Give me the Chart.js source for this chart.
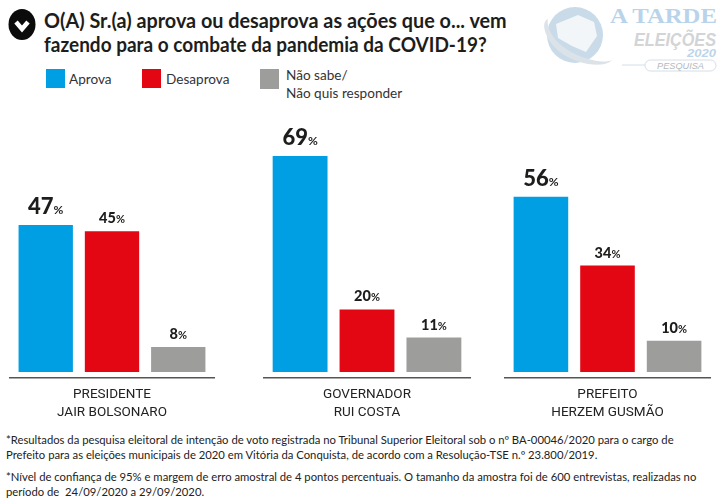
<!DOCTYPE html>
<html lang="pt">
<head>
<meta charset="utf-8">
<title>Avaliação COVID-19</title>
<script src="https://cdn.jsdelivr.net/npm/chart.js@4"></script>
<style>
html, body { margin: 0; padding: 0; background: #fff; }
#page { position: relative; width: 723px; height: 501px; overflow: hidden; font-family: Lato, sans-serif; color: #222; }
#page div { position: absolute; white-space: nowrap; }
#page canvas { display: block; }
.title { left: 44px; font-weight: 700; font-size: 20px; line-height: 24px; color: #1d1d1b; transform-origin: left center; }
.swatch { width: 19px; height: 19px; top: 69px; }
.leg { font-size: 14px; line-height: 18px; color: #333; transform-origin: left center; transform: scaleX(0.97); }
.note { left: 6px; font-size: 11.5px; line-height: 15px; color: #222; transform-origin: left center; transform: scaleX(0.98); }
.box { top: 110px; height: 314px; }
svg { position: absolute; }
</style>
</head>
<body>
<div id="page">
  <svg style="left:8px;top:8px" width="28" height="33" viewBox="0 0 28 33">
    <ellipse cx="14" cy="16.5" rx="13.5" ry="15.5" fill="#0b0b0b"/>
    <path d="M8 14 L14 21 L20 14" fill="none" stroke="#fff" stroke-width="4.5"/>
  </svg>
  <div class="title" style="top:8px;transform:scaleX(0.99)">O(A) Sr.(a) aprova ou desaprova as ações que o... vem</div>
  <div class="title" style="top:32px;transform:scaleX(0.95)">fazendo para o combate da pandemia da COVID-19?</div>

  <div class="swatch" style="left:46px;background:#009fe3"></div>
  <div class="leg" style="left:69px;top:70px">Aprova</div>
  <div class="swatch" style="left:142px;background:#e30613"></div>
  <div class="leg" style="left:166px;top:70px">Desaprova</div>
  <div class="swatch" style="left:260px;top:69px;background:#9d9d9c;height:20px"></div>
  <div class="leg" style="left:286px;top:66px">Não sabe/</div>
  <div class="leg" style="left:286px;top:84px">Não quis responder</div>

  <svg style="left:535px;top:0" width="188" height="80" viewBox="535 0 188 80">
    <circle cx="575" cy="35" r="28" fill="#c9dbe9"/>
    <path d="M556 24 L578 15 L594 22 L597 36 L586 52 L572 46 L558 38 Z" fill="#f3f6f8"/>
    <path d="M548 19 C 540 22 545 40 560 52 C 578 66 606 68 612 60 C 604 64 580 60 562 46 C 552 38 546 26 548 19 Z" fill="#dbe3e9"/>
    <text x="610" y="23" font-family="Liberation Serif" font-weight="700" font-size="21" textLength="107" lengthAdjust="spacingAndGlyphs" fill="#b9d4ea">A TARDE</text>
    <text x="634" y="46" font-family="Liberation Sans" font-style="italic" font-weight="700" font-size="19" textLength="82" lengthAdjust="spacingAndGlyphs" fill="#d2d4d6">ELEIÇÕES</text>
    <text x="687" y="57" font-family="Liberation Sans" font-style="italic" font-weight="700" font-size="11" textLength="29" lengthAdjust="spacingAndGlyphs" fill="#bcd5ea">2020</text>
    <line x1="622" y1="65" x2="645" y2="65" stroke="#d5dee6"/>
    <rect x="645" y="60" width="71" height="11" rx="5.5" fill="#fff" stroke="#d5dee6"/>
    <text x="657" y="69" font-family="Liberation Sans" font-style="italic" font-size="9" textLength="47" lengthAdjust="spacingAndGlyphs" fill="#b5b9bd">PESQUISA</text>
  </svg>

  <div class="box" style="left:9px;width:206px"><canvas id="chart0"></canvas></div>
  <div class="box" style="left:263px;width:208px"><canvas id="chart1"></canvas></div>
  <div class="box" style="left:504px;width:207px"><canvas id="chart2"></canvas></div>

  <div class="note" style="top:432px">*Resultados da pesquisa eleitoral de intenção de voto registrada no Tribunal Superior Eleitoral sob o nº BA-00046/2020 para o cargo de</div>
  <div class="note" style="top:447px">Prefeito para as eleições municipais de 2020 em Vitória da Conquista, de acordo com a Resolução-TSE n.º 23.800/2019.</div>
  <div class="note" style="top:469px">*Nível de confiança de 95% e margem de erro amostral de 4 pontos percentuais.  O tamanho da amostra foi de 600 entrevistas, realizadas no</div>
  <div class="note" style="top:484px;white-space:pre">período de  24/09/2020 a 29/09/2020.</div>
</div>

<script>
var cargos = [['PRESIDENTE', 'JAIR BOLSONARO'], ['GOVERNADOR', 'RUI COSTA'], ['PREFEITO', 'HERZEM GUSMÃO']];
var aprova = [47, 69, 56];
var desaprova = [45, 20, 34];
var naoSabe = [8, 11, 10];
var seriesNames = ['Aprova', 'Desaprova', 'Não sabe/Não quis responder'];
var seriesColors = ['#009fe3', '#e30613', '#9d9d9c'];

// numero em cima da barra, o da primeira barra bem maior
var valueLabels = {
    id: 'valueLabels',
    afterDatasetsDraw: function (chart) {
        var ctx = chart.ctx;
        chart.data.datasets.forEach(function (ds, i) {
            var bar = chart.getDatasetMeta(i).data[0];
            var num = String(ds.data[0]);
            var big = i === 0 ? 22 : 14.5;
            var small = i === 0 ? 12 : 11;
            var gap = i === 0 ? 11 : 8;
            ctx.save();
            ctx.fillStyle = '#1d1d1b';
            ctx.textBaseline = 'alphabetic';
            ctx.font = '900 ' + big + 'px Lato';
            var w1 = ctx.measureText(num).width;
            ctx.font = '700 ' + small + 'px Lato';
            var w2 = ctx.measureText('%').width;
            var x = bar.x - (w1 + w2) / 2;
            var y = bar.y - gap;
            ctx.font = '900 ' + big + 'px Lato';
            ctx.fillText(num, x, y);
            ctx.font = '700 ' + small + 'px Lato';
            ctx.fillText('%', x + w1, y);
            ctx.restore();
        });
    }
};

cargos.forEach(function (cargo, i) {
    var values = [aprova[i], desaprova[i], naoSabe[i]];
    new Chart(document.getElementById('chart' + i), {
        type: 'bar',
        data: {
            labels: [cargo],
            datasets: values.map(function (v, j) {
                return { label: seriesNames[j], data: [v], backgroundColor: seriesColors[j] };
            })
        },
        options: {
            responsive: true,
            maintainAspectRatio: false,
            animation: false,
            categoryPercentage: 0.965,
            barPercentage: 0.82,
            layout: { padding: 0 },
            plugins: { legend: { display: false }, tooltip: { enabled: false } },
            scales: {
                x: {
                    grid: { display: false, drawTicks: false },
                    border: { color: '#555', width: 1.5 },
                    afterFit: function (scale) { scale.height = 46; },
                    ticks: {
                        color: '#222',
                        padding: 8,
                        maxRotation: 0,
                        font: { family: 'Roboto', size: 13.5, lineHeight: 1.33 }
                    }
                },
                y: { display: false, min: -1.9, max: 83.7 }
            }
        },
        plugins: [valueLabels]
    });
});
</script>
</body>
</html>
